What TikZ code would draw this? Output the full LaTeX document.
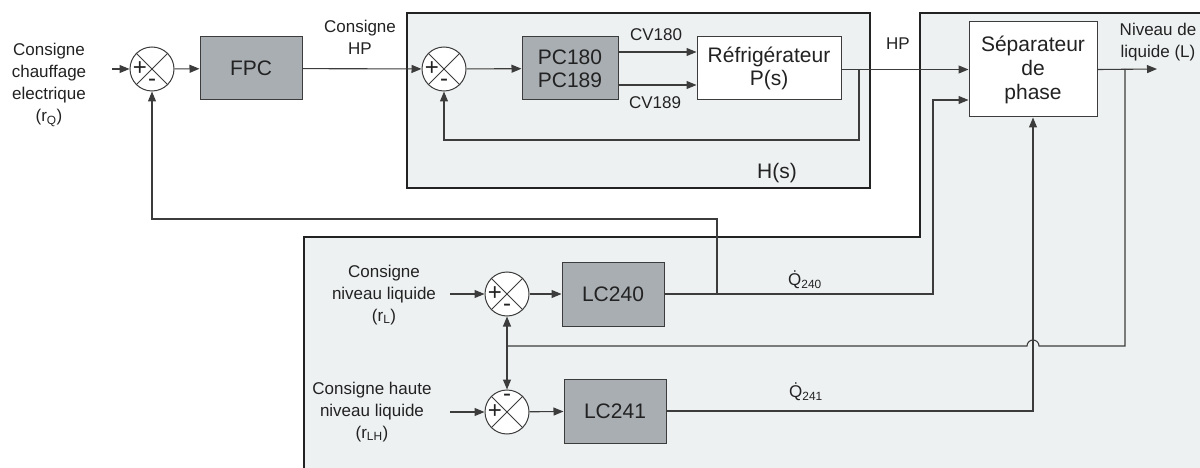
\documentclass[tikz,border=0pt]{standalone}
\usepackage{fontspec}
\setmainfont{Liberation Sans}
\usetikzlibrary{arrows.meta}
\definecolor{boxgray}{HTML}{A9AEB3}
\definecolor{panelfill}{HTML}{EEF1F2}
\definecolor{ln}{HTML}{3C3C3C}
\definecolor{txt}{HTML}{222222}
\newcommand{\smallf}{\fontsize{17}{22}\selectfont}
\newcommand{\bigf}{\fontsize{21}{25}\selectfont}
\newcommand{\signf}{\fontsize{24}{24}\selectfont}
\tikzset{
  sumnode/.style={circle, draw=ln, fill=white, line width=1pt, minimum size=44pt, inner sep=0pt},
  ctrlbox/.style={draw=ln, fill=boxgray, line width=1pt, inner sep=0pt, font=\bigf, text=txt, align=center},
  plantbox/.style={draw=ln, fill=white, line width=1pt, inner sep=0pt, font=\bigf, text=txt, align=center},
  wire/.style={draw=ln, line width=1.1pt},
  arr/.style={wire, -{Triangle[length=10pt,width=8pt]}},
  lbl/.style={font=\smallf, text=txt, align=center, inner sep=0pt},
  sgn/.style={font=\signf, text=txt, inner sep=0pt},
  panelborder/.style={draw=txt, line width=2.4pt},
}
\begin{document}
\begin{tikzpicture}[x=1pt, y=-1pt]
\useasboundingbox (0,0) rectangle (1200,468);
% panels
\fill[panelfill] (920,13) -- (1200,13) -- (1200,468) -- (304,468) -- (304,237) -- (920,237) -- cycle;
\draw[panelborder] (1200,13) -- (920,13) -- (920,237) -- (304,237) -- (304,468);
\path[fill=panelfill, panelborder] (407,13) rectangle (870,188);

% nodes
\node[sumnode] (sum1) at (152,69) {};
\node[ctrlbox, minimum width=102pt, minimum height=63pt] (fpc) at (251,68.5) {FPC};
\node[sumnode] (sum2) at (444,69) {};
\node[ctrlbox, minimum width=96pt, minimum height=63pt] (pc) at (570,68.5) {PC180\\[-2pt]PC189};
\node[plantbox, minimum width=144pt, minimum height=63pt] (refr) at (769,68.5) {Réfrigérateur\\[-2pt]P(s)};
\node[plantbox, minimum width=128pt, minimum height=95pt] (sep) at (1033,69.5) {Séparateur\\[-1pt]de\\[-1pt]phase};
\node[sumnode] (sum3) at (507,294) {};
\node[ctrlbox, minimum width=102pt, minimum height=64pt] (lc240) at (613,294) {LC240};
\node[sumnode] (sum4) at (507,412) {};
\node[ctrlbox, minimum width=102pt, minimum height=64pt] (lc241) at (615,411) {LC241};

\foreach \s in {sum1,sum2,sum3,sum4}{
  \draw[ln, line width=1pt] (\s.north west) -- (\s.south east) (\s.north east) -- (\s.south west);
}
\foreach \s in {sum1,sum2,sum3,sum4}{
  \node[sgn] at ([xshift=-12pt]\s.center) {+};
}
\foreach \s in {sum1,sum2,sum3}{
  \node[sgn] at ([yshift=-14pt]\s.center) {-};
}
\node[sgn] at ([yshift=14pt]sum4.center) {-};

% coordinates
\coordinate (in1) at (112,69);
\coordinate (in3) at (450,294);
\coordinate (in4) at (450,412);
\coordinate (out) at (1157,69);
\coordinate (br1) at (859,69);
\coordinate (br2) at (1125,69);
\coordinate (j240) at (717,294);
\coordinate (fb) at (507,346);

% connectors
\draw[arr] (in1) -- (sum1);
\draw[arr] (sum1) -- (fpc);
\draw[arr] (fpc) -- (sum2);
\draw[arr] (sum2) -- (pc);
\draw[arr] (pc.east |- 0,52) -- (refr.west |- 0,52);
\draw[arr] (pc.east |- 0,85) -- (refr.west |- 0,85);
\draw[arr] (refr.east |- sep.west) -- (sep.west);
\draw[arr] (br1) -- (859,140) -| (sum2.south);
\draw[arr] (sep.east) -- (out);
\draw[wire] (br2) -- (1125,346) -- (1039,346) arc[start angle=0, end angle=180, radius=6pt] -- (fb);
\draw[arr] (fb) -- (sum3.south);
\draw[arr] (fb) -- (sum4.north);
\draw[arr] (in3) -- (sum3);
\draw[arr] (in4) -- (sum4);
\draw[arr] (sum3) -- (lc240);
\draw[arr] (sum4) -- (lc241);
\draw[arr] (lc240.east) -- (933,294) -- (933,100) -- (sep.west |- 0,100);
\draw[arr] (j240) -- (717,219) -| (sum1.south);
\draw[arr] (lc241.east) -| (sep.south);

% labels
\node[lbl] at (49,85) {Consigne\\chauffage\\electrique\\(r\textsubscript{Q})};
\node[lbl] at (360,37) {Consigne\\HP};
\node[lbl] at (656,35) {CV180};
\node[lbl] at (655,103) {CV189};
\node[lbl] at (898,44) {HP};
\node[lbl, font=\bigf] at (777,173) {H(s)};
\node[lbl] at (1158,42) {Niveau de\\liquide (L)};
\node[lbl] at (805,280) {\.{Q}\textsubscript{240}};
\node[lbl] at (806,392) {\.{Q}\textsubscript{241}};
\node[lbl] at (384,295) {Consigne\\niveau liquide\\(r\textsubscript{L})};
\node[lbl] at (372,412) {Consigne haute\\niveau liquide\\(r\textsubscript{LH})};
\end{tikzpicture}
\end{document}
